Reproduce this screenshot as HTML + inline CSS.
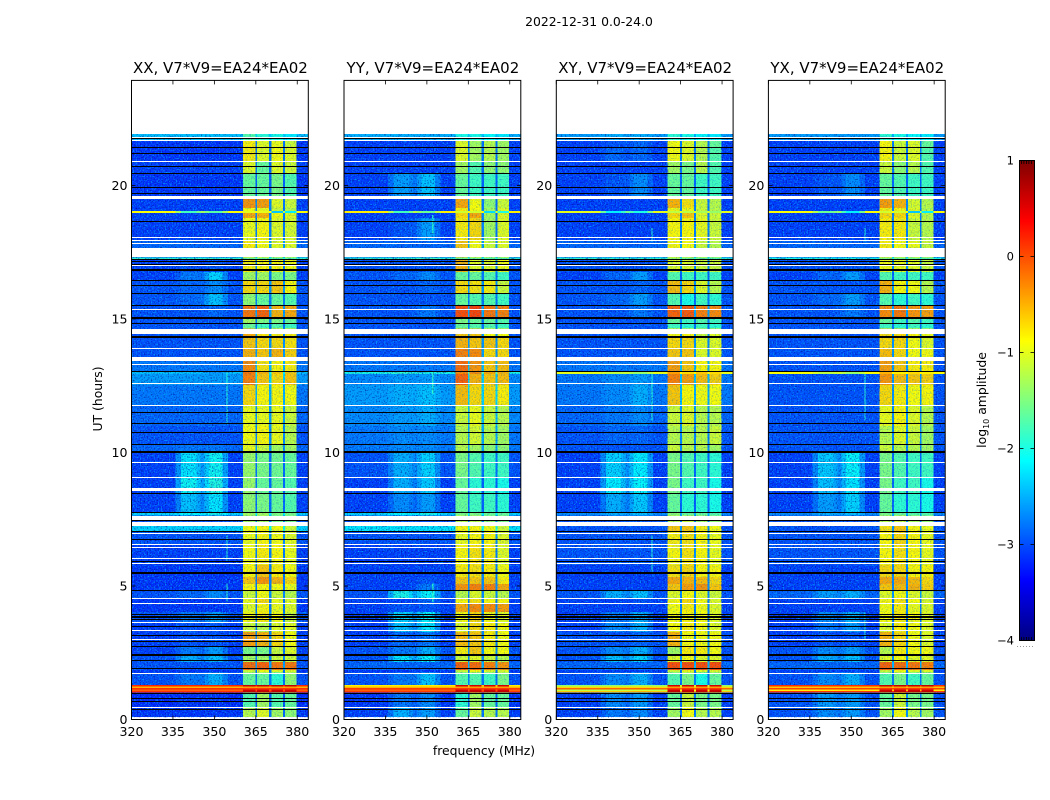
<!DOCTYPE html>
<html lang="en">
<head>
<meta charset="utf-8">
<title>2022-12-31 spectrogram</title>
<style>
html,body{margin:0;padding:0;background:#fff}
svg{display:block}
text{font-family:"DejaVu Sans","Liberation Sans",sans-serif;fill:#000}
</style>
</head>
<body>
<svg id="chart" xmlns="http://www.w3.org/2000/svg" width="1050" height="800" viewBox="0 0 1050 800">
  <defs>
    <filter id="speckle-a" x="0" y="0" width="1" height="1" color-interpolation-filters="sRGB">
      <feTurbulence type="fractalNoise" baseFrequency="0.72" numOctaves="1" seed="4"/>
      <feColorMatrix type="matrix" values="0 0 0 0 0  0 0 0 0 0.68  0 0 0 0 1  3 0 0 0 -1.45"/>
    </filter>
    <filter id="speckle-b" x="0" y="0" width="1" height="1" color-interpolation-filters="sRGB">
      <feTurbulence type="fractalNoise" baseFrequency="0.72" numOctaves="1" seed="11"/>
      <feColorMatrix type="matrix" values="0 0 0 0 0  0 0 0 0 0  0 0 0 0 0.5  0 2.2 0 0 -1.1"/>
    </filter>
  </defs>
  <text x="589" y="26" font-size="12.4" text-anchor="middle">2022-12-31 0.0-24.0</text>
  <text x="0" y="0" font-size="12.4" text-anchor="middle" transform="translate(102,399) rotate(-90)">UT (hours)</text>
  <text x="484" y="755" font-size="12.4" text-anchor="middle">frequency (MHz)</text>
  <text x="0" y="0" font-size="12.4" text-anchor="middle" transform="translate(986,400) rotate(-90)">log<tspan font-size="8" dy="3">10</tspan><tspan dy="-3"> amplitude</tspan></text>
  <g id="panels"></g>
  <g id="colorbar"></g>
</svg>
<script>
// ---- data (log10 amplitude) ----
const panelTitles = ["XX, V7*V9=EA24*EA02","YY, V7*V9=EA24*EA02","XY, V7*V9=EA24*EA02","YX, V7*V9=EA24*EA02"];
const xTicks = [320,335,350,365,380];
const yTicks = [0,5,10,15,20];
const colorTicks = [1,0,-1,-2,-3,-4];
const freqEdges = [320,336,338,343.5,345,346.5,348,353,355,360.3,364.8,365.5,369.8,370.6,374.8,375.5,379.8,384];
const hourEdges = [0.09,0.43,1.01,1.07,1.13,1.18,1.24,1.30,1.76,1.86,2.15,2.41,2.75,3.28,3.65,4.03,4.33,4.55,4.85,5.08,5.34,5.78,6.53,7.06,7.25,7.47,7.64,7.73,8.45,9.05,9.98,10.32,10.99,11.78,12.53,12.94,13.02,13.42,13.91,14.29,14.64,14.85,15.07,15.49,15.98,16.46,16.76,17.21,17.30,17.96,18.78,18.97,19.05,19.16,19.51,20.47,20.88,21.44,21.71,21.92];
// each row: background, bump 1, bump 2, window 1, window 2, window 3, window 4
const rowsXX = [
[-3.15,-3.15,-3.15,-1.2,-1.0,-1.3,-1.4],[-3.2,-3.15,-3.15,-1.7,-1.3,-1.7,-1.6],[.15,.15,.15,.7,.7,.7,.7],[-.1,-.1,-.1,.6,.6,.6,.6],[.15,.15,.15,.1,.1,.1,.1],[-.5,-.5,-.5,-.4,-.4,-.4,-.4],[.2,.2,.2,.7,.7,.7,.7],[-3,-2.8,-2.5,-1.6,-1.6,-1.9,-1.4],[-3.15,-3.15,-3.15,-1.1,-.9,-1,-1],[-3,-3,-3,-.15,-.1,-.2,-.2],
[-3,-2.5,-2.4,-1.3,-1.3,-1.1,-1.1],[-3.1,-2.8,-2.6,-1.5,-1.5,-1.1,-1.0],[-3.1,-3,-3,-.4,-.5,-.7,-.9],[-3.1,-3,-3,-1.1,-1.2,-1,-1],[-3,-2.8,-2.6,-.9,-.8,-.9,-1.1],[-3.15,-3.15,-3.15,-1,-.85,-.95,-1],[-3.15,-3.15,-3.15,-.95,-.7,-.95,-1],[-3,-2.9,-2.7,-1.1,-.9,-1.1,-1.2],[-3.15,-3.15,-3.15,-.85,-.85,-.9,-.95],[-3.15,-3.15,-3.15,-.6,-.35,-.5,-.7],
[-3.15,-3.15,-3.15,-.85,-.6,-.8,-.9],[-3.1,-3.1,-3.1,-.9,-.8,-.85,-.95],[-3,-3,-3,-.95,-.85,-.9,-1],[-2.3,-2.3,-2.3,-.9,-.85,-.9,-1.1],[-3,-3,-3,-1.3,-1.3,-1.5,-1.5],[-3,-3,-3,-1.3,-1.3,-1.5,-1.5],[-2.3,-2.1,-2,-1.3,-1.3,-1.5,-1.5],[-3.1,-2.4,-2.2,-1.4,-1.5,-1.6,-1.7],[-3.1,-2.05,-1.95,-1.35,-1.6,-1.6,-1.7],[-3.1,-2.2,-2.05,-1.35,-1.5,-1.55,-1.6],
[-2.9,-2.8,-2.8,-.95,-1.1,-1.3,-1.3],[-3,-3,-3,-.9,-.85,-.95,-1.2],[-2.9,-2.9,-2.9,-.95,-.95,-.95,-1.1],[-2.8,-2.8,-2.8,-.7,-.85,-.85,-.9],[-2.6,-2.6,-2.6,-.25,-.6,-.7,-.6],[-2.4,-2.4,-2.6,-.2,-.5,-.6,-.6],[-2.8,-2.8,-2.8,-.3,-.75,-.85,-.8],[-3,-3,-3,-.5,-.6,-.5,-.65],[-3,-3,-3,-.6,-.7,-.7,-.75],[-3,-3,-3,-.45,-.75,-.8,-.8],
[-3,-3,-3,-1.6,-1.8,-1.7,-1.8],[-3,-3,-3,-1.3,-1.5,-1.5,-1.6],[-3,-3,-2.9,-.2,-.1,-.5,-.45],[-3,-2.9,-2.4,-1.4,-1.6,-1.6,-1.7],[-3,-2.9,-2.7,-.7,-.7,-.6,-.85],[-3.1,-2.8,-2.3,-1.3,-1.3,-1.5,-1.5],[-3.1,-3,-3,-.8,-.85,-.85,-.9],[-1.9,-1.9,-1.9,-1.6,-1.6,-1.7,-1.7],[-2.9,-2.9,-2.9,-.8,-.9,-1,-1],[-3.1,-3.1,-3.1,-.95,-.85,-1,-1.05],
[-3.1,-3.1,-3.1,-.45,-.5,-.9,-1],[-.9,-1.8,-1.7,-1,-1,-2.4,-2.2],[-3.1,-3.1,-3.1,-.9,-.95,-1.1,-1.2],[-3.1,-3.1,-3.1,-.35,-.4,-1,-1.1],[-3.15,-3.15,-3.15,-1.6,-1.6,-1.5,-1.7],[-3.1,-3.1,-3.1,-1,-1.6,-1,-1.1],[-3.15,-3.15,-3.15,-.8,-1,-.9,-1],[-3.15,-3.15,-3.15,-.8,-1,-.95,-1.1],[-2.4,-2.4,-2.4,-1.7,-1.9,-2,-2.2]
];
const rowsYY = [
[-3.1,-2.5,-2.6,-1.6,-1.1,-1.2,-1.2],[-3.15,-2.8,-2.7,-1.9,-1.3,-1.6,-1.6],[.1,.1,.1,.7,.7,.7,.7],[-.1,-.1,-.1,.6,.6,.6,.6],[.1,.1,.1,.1,.1,.1,.1],[-.5,-.5,-.5,-.4,-.4,-.4,-.4],[-.8,-.8,-.8,.6,.6,.6,.6],[-3,-2.8,-2.4,-1.7,-1.7,-1.8,-1.5],[-3.15,-3.15,-3.15,-1.1,-.9,-1,-1],[-2.9,-2.9,-2.9,-.1,-.15,-.25,-.35],
[-3,-2.2,-2.1,-1.1,-1,-1.1,-1.2],[-3,-2.8,-2.5,-.8,-.6,-.9,-.9],[-3.1,-2.9,-2.8,-.55,-.6,-.8,-.9],[-3.1,-2.4,-2.2,-1,-.7,-.8,-.9],[-3.1,-2.3,-2.1,-.9,-.7,-.9,-1],[-3.1,-3,-3,-.45,-.3,-.3,-.4],[-3.1,-3.1,-2.9,-.85,-.75,-.85,-.85],[-3,-2,-2.1,-1.2,-1,-1.1,-1.2],[-3.1,-3.1,-2.8,-.35,-.25,-.25,-.45],[-3.1,-3.1,-3,-.6,-.6,-.6,-.8],
[-3.1,-3.1,-3.1,-.8,-.75,-.8,-.9],[-3.1,-3.1,-3.1,-.85,-.75,-.8,-1],[-3,-3,-3,-.95,-.85,-.85,-1],[-2.2,-2.2,-2.2,-.85,-.85,-.9,-1.1],[-3,-3,-3,-1.2,-1.2,-1.4,-1.5],[-3,-3,-3,-1.2,-1.2,-1.4,-1.5],[-2.3,-2.1,-2,-1.5,-1.5,-1.6,-1.6],[-3.1,-2.7,-2.6,-1.6,-1.8,-1.8,-1.9],[-3.1,-2.5,-2.35,-1.6,-1.9,-1.9,-2],[-3,-2.5,-2.3,-1.5,-1.7,-1.8,-1.8],
[-2.8,-2.7,-2.7,-1.2,-1.3,-1.4,-1.4],[-2.8,-2.7,-2.7,-1.2,-1.05,-1.2,-1.3],[-2.7,-2.6,-2.5,-1.1,-.95,-1.1,-1.2],[-2.6,-2.5,-2.4,-.55,-.7,-.7,-.8],[-2.7,-2.6,-2.6,-.1,-.5,-.6,-.55],[-2,-1.9,-2,-.3,-.3,-.45,-.5],[-2.8,-2.8,-2.8,-.15,-.35,-.6,-.55],[-3,-3,-3,-.25,-.3,-.7,-.7],[-3,-3,-3,-.5,-.6,-.6,-.7],[-3,-3,-3,-.6,-.6,-.9,-.9],
[-3,-3,-3,-1.6,-1.7,-1.7,-1.8],[-3,-3,-3,-1.5,-1.6,-1.6,-1.7],[-3,-3,-2.8,0,.05,-.2,-.25],[-3,-3,-3,-1.6,-1.7,-1.7,-1.8],[-3,-3,-2.9,-.7,-.75,-.8,-1.1],[-3,-2.9,-2.7,-1.6,-1.6,-1.7,-1.8],[-3,-3,-3,-.5,-1,-1,-.9],[-1.9,-1.9,-1.8,-1.6,-1.6,-1.7,-1.7],[-2.9,-2.9,-2.9,-.6,-.9,-1.1,-1],[-3.1,-3,-2.6,-.8,-.7,-1.3,-1],
[-3.1,-3.1,-3.1,-.7,-.45,-1.3,-1],[-.8,-1.8,-1.6,-1.1,-1.1,-2.3,-2],[-3.1,-3.1,-3.1,-.8,-.9,-1.3,-1],[-3.1,-3.1,-3.1,-.45,-.9,-1.4,-1.1],[-3.1,-2.6,-2.4,-1.6,-1.8,-1.8,-1.8],[-3.1,-3.1,-3.1,-1.3,-1.7,-1.4,-1.4],[-3.1,-3.1,-3.1,-1,-1.3,-1.2,-1.3],[-3.1,-3.1,-3.1,-1,-1.3,-1.2,-1.3],[-2.5,-2.5,-2.5,-2,-2,-2.1,-2.2]
];
const rowsXY = [
[-3.1,-2.8,-2.7,-1.3,-.9,-1.2,-1.2],[-3.1,-2.7,-2.6,-1.6,-1.1,-1.5,-1.5],[-.6,-.6,-.5,.7,.7,.7,.7],[-1.2,-1.2,-1.1,.6,.6,.6,.6],[-.1,-.1,-.1,.1,.1,.1,.1],[-.7,-.7,-.7,-.4,-.4,-.4,-.4],[-1.4,-1.4,-1.3,.6,.6,.6,.6],[-3,-2.7,-2.5,-1.7,-1.5,-2,-1.6],[-3.1,-3.1,-3.1,-1.1,-.9,-1,-1],[-2.9,-2.9,-2.9,0,0,0,0],
[-3,-2.4,-2.3,-1,-.9,-1,-1],[-3,-2.7,-2.5,-1.3,-.8,-.8,-.9],[-3,-3,-2.9,-.5,-.9,-.9,-.9],[-3.1,-2.7,-2.5,-.9,-.8,-.9,-1],[-3.1,-2.8,-2.5,-.9,-.85,-.9,-1],[-3.1,-3.1,-3.1,-.9,-.8,-.9,-1],[-3.1,-3.1,-3,-.85,-.7,-.9,-1],[-3,-2.5,-2.4,-1,-.9,-1,-1.1],[-3.1,-3.1,-3.1,-.6,-.4,-.35,-.6],[-3.1,-3.1,-3.1,-.45,-.5,-.55,-.7],
[-3.1,-3.1,-3.1,-.75,-.7,-.85,-.85],[-3,-3,-3,-.85,-.75,-.85,-.95],[-3,-3,-3,-.8,-.75,-.85,-.95],[-3,-3,-3,-.6,-.6,-.8,-.9],[-3,-3,-3,-1.2,-1.1,-1.3,-1.4],[-3,-3,-3,-1.2,-1.1,-1.3,-1.4],[-2.7,-2.5,-2.4,-1.4,-1.6,-1.6,-1.7],[-3.1,-2.5,-2.35,-1.6,-1.9,-1.9,-2],[-3.1,-2.15,-2.1,-1.5,-1.8,-1.8,-2],[-3.1,-2.3,-2.15,-1.5,-1.7,-1.8,-1.9],
[-3,-3,-3,-1.1,-1.2,-1.2,-1.3],[-3,-2.9,-2.9,-1.2,-1.2,-1.2,-1.1],[-2.9,-2.8,-2.7,-1.1,-1,-1.2,-1.2],[-2.8,-2.7,-2.5,-.6,-.85,-.9,-.9],[-2.8,-2.7,-2.6,-.25,-.4,-.55,-.65],[-1,-1.2,-1.4,-.4,-.7,-.6,-.7],[-2.8,-2.8,-2.8,-.4,-.6,-.85,-.85],[-3,-3,-3,-.6,-.6,-1,-1],[-3,-3,-3,-.7,-.7,-1,-1],[-3,-3,-3,-.85,-.85,-1.1,-1],
[-3,-3,-3,-1.8,-1.9,-1.8,-1.9],[-3,-3,-3,-1.6,-1.8,-1.7,-1.8],[-3,-3,-2.8,-.1,-.05,-.25,-.3],[-3,-2.9,-2.6,-1.7,-2,-1.8,-1.9],[-3,-3,-2.9,-.55,-.7,-1,-1.2],[-3.1,-2.9,-2.6,-1.7,-1.8,-1.8,-1.8],[-3,-3,-3,-1,-1,-1.1,-1.1],[-1.9,-1.9,-1.9,-1.4,-1.6,-1.6,-1.7],[-2.9,-2.9,-2.9,-.85,-.9,-1.1,-1.2],[-3.1,-3.1,-3.1,-.85,-.85,-.95,-1.1],
[-3.1,-3.1,-3.1,-.7,-.6,-1,-1.1],[-1,-2.2,-2,-1.2,-1.2,-1.3,-1.4],[-3.1,-3.1,-3.1,-.9,-.9,-1.1,-1.2],[-3.1,-3.1,-3.1,-.5,-.75,-1.1,-1.2],[-3.1,-3,-2.7,-1.6,-1.6,-1.8,-1.8],[-3.1,-3.1,-3.1,-1.3,-1.5,-1.2,-1.7],[-3.1,-2.9,-2.9,-.9,-1,-1.2,-1.7],[-3.1,-3,-2.9,-.9,-1,-1.2,-1.6],[-2.6,-2.5,-2.5,-1.9,-2,-2.1,-2.2]
];
const rowsYX = [
[-3,-2.7,-2.6,-1.3,-.9,-1.2,-1.3],[-3,-2.6,-2.6,-1.6,-1.1,-1.5,-1.5],[.1,.1,.1,.7,.7,.7,.7],[-.8,-.8,-.7,.6,.6,.6,.6],[.05,.05,.05,.1,.1,.1,.1],[-.6,-.6,-.6,-.4,-.4,-.4,-.4],[.15,.15,.15,.7,.7,.7,.7],[-3,-2.7,-2.5,-1.7,-1.5,-1.8,-1.6],[-3.1,-3.1,-3.1,-1.1,-.9,-1,-1],[-2.9,-2.9,-2.9,-.1,-.15,-.2,-.25],
[-3,-2.5,-2.4,-1,-.9,-1,-1],[-3,-2.7,-2.6,-1.2,-.8,-.9,-.9],[-3.1,-3,-3,-.5,-.7,-.9,-1],[-3.1,-2.8,-2.6,-1,-.8,-.9,-1],[-3.1,-2.7,-2.5,-.9,-.8,-.9,-1],[-3.1,-3.1,-3.1,-.9,-.8,-.95,-1],[-3.1,-3.1,-3.1,-.85,-.75,-.9,-1],[-2.9,-2.6,-2.5,-1,-.9,-1,-1.1],[-3.1,-3.1,-3.1,-.6,-.55,-.5,-.65],[-3.1,-3.1,-3.1,-.45,-.45,-.55,-.7],
[-3.1,-3.1,-3.1,-.7,-.7,-.85,-.85],[-3,-3,-3,-.85,-.75,-.85,-.95],[-3,-3,-3,-.85,-.7,-.85,-.95],[-3,-3,-3,-.75,-.6,-.85,-.95],[-3,-3,-3,-1.2,-1.1,-1.3,-1.4],[-3,-3,-3,-1.2,-1.1,-1.3,-1.4],[-2.7,-2.5,-2.4,-1.5,-1.6,-1.7,-1.7],[-3.1,-2.6,-2.3,-1.6,-1.9,-1.9,-2],[-3.1,-2.4,-2.2,-1.5,-1.8,-1.8,-2],[-3.1,-2.35,-2.1,-1.5,-1.7,-1.8,-1.8],
[-3,-3,-3,-1.1,-1.2,-1.2,-1.3],[-3,-3,-3,-1.2,-1,-1.1,-1.3],[-3,-3,-3,-.95,-.85,-1,-1.2],[-3,-3,-3,-.7,-.8,-.9,-.85],[-3,-3,-3,-.35,-.55,-.6,-.65],[-.9,-1.2,-1.4,-.5,-.8,-.7,-.8],[-3,-3,-3,-.4,-.6,-.8,-.8],[-3,-3,-3,-.55,-.7,-.9,-.9],[-3,-3,-3,-.7,-.7,-.9,-1],[-3,-3,-3,-.7,-.7,-.85,-.95],
[-3,-3,-3,-1.8,-1.9,-1.8,-1.9],[-3,-3,-3,-1.6,-1.8,-1.7,-1.8],[-3,-3,-2.8,-.3,-.2,-.35,-.4],[-3,-2.9,-2.6,-1.7,-1.9,-1.8,-1.9],[-3,-3,-3,-.5,-.85,-.9,-1.2],[-3.1,-2.9,-2.6,-1.7,-1.8,-1.8,-1.8],[-3,-3,-3,-.9,-.95,-1,-1.1],[-2,-2,-2,-1.5,-1.6,-1.6,-1.7],[-2.9,-2.9,-2.9,-.8,-.9,-.95,-1.1],[-3.1,-3.1,-3.1,-.8,-.8,-1.1,-1.2],
[-3.1,-3.1,-3.1,-.7,-.7,-1,-1.2],[-.9,-1.6,-2.2,-1.1,-1.1,-2.4,-2.2],[-3.1,-3.1,-3.1,-.8,-.85,-1,-1.2],[-3.1,-3.1,-3.1,-.4,-.5,-1.05,-1.2],[-3.1,-3,-2.7,-1.6,-1.7,-1.8,-1.8],[-3.1,-3.1,-3.1,-1.1,-1.4,-1.2,-1.7],[-3.1,-3.1,-3.1,-.85,-1.1,-1,-1.7],[-3.1,-3.1,-3.1,-.85,-1.1,-1,-1.6],[-2.6,-2.6,-2.6,-1.9,-2,-2.1,-2.2]
];
// flagged integrations: [hour, duration in hours]
const blankRows = [[.44,.05],[1.73,.05],[2.99,.05],[3.34,.05],[3.64,.05],[4.35,.05],[4.54,.05],[5.85,.05],[6.04,.05],[6.45,.05],[6.56,.05],[6.97,.05],[7.32,.14],[7.55,.16],[8.6,.13],[9.04,.05],[9.63,.05],[11.77,.05],[12.56,.05],[13.3,.05],[13.5,.15],[13.9,.05],[14.52,.2],[15.34,.05],[16.98,.05],[17.48,.34],[17.82,.05],[17.93,.05],[18.04,.05],[19.57,.11],[20.88,.05],[21.79,.045],[21.7,.045]];
const darkRows = [[.35,.05],[.65,.05],[.77,.05],[.97,.05],[1.92,.05],[2.19,.05],[2.4,.08],[2.72,.05],[2.91,.05],[3.14,.05],[3.49,.05],[3.73,.05],[3.84,.08],[3.91,.05],[4.82,.05],[5.49,.08],[5.91,.05],[6.72,.05],[7.02,.05],[7.45,.04],[7.76,.05],[8.44,.05],[10.02,.09],[10.3,.05],[10.75,.05],[11.07,.05],[11.51,.05],[13.01,.05],[14.32,.06],[14.84,.05],[15.03,.08],[15.51,.05],[15.96,.05],[16.23,.05],[16.43,.05],[16.83,.08],[17.05,.05],[17.14,.05],[17.23,.05],[18.66,.05],[19.71,.05],[19.93,.05],[20.46,.05],[20.69,.05],[21.2,.05],[21.43,.05],[21.75,.04]];
// narrow-band interference: [frequency, hour start, hour end]
const spikesXX = [[354.3,11.05,13],[354.3,4.4,5.1],[354.3,5.9,6.9]];
const spikesYY = [[351.9,4.4,5.1],[351.9,18.2,18.9],[351.9,12.2,13]];
const spikesXY = [[354.4,11.2,13],[354.4,17.9,18.4],[354.4,5.5,6.9]];
const spikesYX = [[354.7,11.2,13],[354.7,17.9,18.4],[354.7,3,4]];
const spikeLevel = -1.9;

// ---- layout and scales ----
const NS = 'http://www.w3.org/2000/svg';
const panelLefts = [131.5,344,556.3,768.4];
const panelWidth = 176.8;
const plotTop = 80.4, plotBottom = 719.5;
const pxPerHour = 26.7;
const levelMin = -4, levelMax = 1;
const hotThreshold = -1.5;
const xScale = (f, left) => left + (f - 320) * panelWidth / 64;
const yScale = h => plotBottom - h * pxPerHour;
const cbarScale = v => 640 - (v - levelMin) * 480 / (levelMax - levelMin);
const byte = v => Math.round(255 * Math.max(0, Math.min(1, v)));
function jet(level) {
  const t = Math.max(0, Math.min(1, (level - levelMin) / (levelMax - levelMin)));
  const r = Math.min(4 * t - 1.5, -4 * t + 4.5);
  const g = Math.min(4 * t - 0.5, -4 * t + 3.5);
  const b = Math.min(4 * t + 0.5, -4 * t + 2.5);
  return 'rgb(' + byte(r) + ',' + byte(g) + ',' + byte(b) + ')';
}
function columnLevels(row) {
  const [bg, b1, b2, s1, s2, s3, s4] = row;
  const dip = (b1 + b2 + 2 * bg) / 4;
  const gap = v => bg * 0.85 + v * 0.15;
  return [bg, (bg + b1) / 2, b1, (b1 + dip) / 2, dip, (dip + b2) / 2, b2, (b2 + bg) / 2, bg, s1, gap(s1), s2, gap(s2), s3, gap(s3), s4, bg];
}
function make(tag, attrs, parent) {
  const el = document.createElementNS(NS, tag);
  for (const k in attrs) el.setAttribute(k, attrs[k]);
  parent.appendChild(el);
  return el;
}
function drawRow(row, r, left, parent) {
  const top = yScale(hourEdges[r + 1]), bottom = yScale(hourEdges[r]);
  columnLevels(row).forEach((level, c) => {
    const x0 = xScale(freqEdges[c], left), x1 = xScale(freqEdges[c + 1], left);
    const cell = make('rect', { x: x0, y: top, width: x1 - x0, height: bottom - top, fill: jet(level) }, parent);
    
    
  });
}

const panelsRoot = document.getElementById('panels');
const panelRows = [rowsXX, rowsYY, rowsXY, rowsYX];
const panelSpikes = [spikesXX, spikesYY, spikesXY, spikesYX];
const panelKeys = ['xx', 'yy', 'xy', 'yx'];
// frequency spans and how strongly the pixel grain shows over each
const grainSpans = [[320,360.3,1],[360.3,379.8,.4],[379.8,384,1]];

panelTitles.forEach((title, p) => {
  const left = panelLefts[p], right = left + panelWidth;
  const g = make('g', {}, panelsRoot);
  
  

  const heat = make('g', { 'shape-rendering': 'crispEdges' }, g);
  
  
  panelRows[p].forEach((row, r) => drawRow(row, r, left, heat));
  panelSpikes[p].forEach(s => {
    const spike = make('rect', { x: xScale(s[0], left), y: yScale(s[2]), width: 1.2, height: yScale(s[1]) - yScale(s[2]), fill: jet(spikeLevel) }, heat);
    
    
  });

  // Pixel grain over the cells; it carries no data values.
  const top = yScale(hourEdges[hourEdges.length - 1]), bot = yScale(hourEdges[0]);
  grainSpans.forEach(span => {
    const x0 = xScale(span[0], left), w = xScale(span[1], left) - x0;
    const grainA = make('rect', { x: x0, y: top, width: w, height: bot - top, filter: 'url(#speckle-a)', opacity: span[2] }, g);
    
    
    const grainB = make('rect', { x: x0, y: top, width: w, height: bot - top, filter: 'url(#speckle-b)', opacity: span[2] }, g);
    
    
  });

  // Bright broadband rows stay clean above the grain.
  const hot = make('g', { 'shape-rendering': 'crispEdges' }, g);
  
  
  panelRows[p].forEach((row, r) => {
    if (row[0] > hotThreshold) drawRow(row, r, left, hot);
  });

  const flags = make('g', { 'shape-rendering': 'crispEdges' }, g);
  
  
  darkRows.forEach(f => {
    const line = make('rect', { x: left, y: Math.round(yScale(f[0] + f[1] / 2)), width: panelWidth, height: Math.max(1, Math.round(f[1] * pxPerHour)), fill: '#000' }, flags);
    
    
  });
  blankRows.forEach(f => {
    const line = make('rect', { x: left, y: Math.round(yScale(f[0] + f[1] / 2)), width: panelWidth, height: Math.max(1, Math.round(f[1] * pxPerHour)), fill: '#fff' }, flags);
    
    
  });

  const frame = make('rect', { x: left, y: plotTop, width: panelWidth, height: plotBottom - plotTop, fill: 'none', stroke: '#000', 'stroke-width': 1 }, g);
  
  

  xTicks.forEach(t => {
    const x = xScale(t, left);
    const tb = make('line', { x1: x, x2: x, y1: plotBottom, y2: plotBottom - 4, stroke: '#000', 'stroke-width': .8 }, g);
    
    
    const tt = make('line', { x1: x, x2: x, y1: plotTop, y2: plotTop + 4, stroke: '#000', 'stroke-width': .8 }, g);
    
    
    const lab = make('text', { x: x, y: 736, 'font-size': 12.6, 'text-anchor': 'middle' }, g);
    
    
    lab.textContent = t;
  });
  yTicks.forEach(t => {
    const y = yScale(t);
    const tl = make('line', { x1: left, x2: left + 4, y1: y, y2: y, stroke: '#000', 'stroke-width': .8 }, g);
    
    
    const tr = make('line', { x1: right, x2: right - 4, y1: y, y2: y, stroke: '#000', 'stroke-width': .8 }, g);
    
    
    const lab = make('text', { x: left - 4, y: y + 4.5, 'font-size': 12.6, 'text-anchor': 'end' }, g);
    
    
    lab.textContent = t;
  });
  const ttl = make('text', { x: left + panelWidth / 2 + .5, y: 73, 'font-size': 15, 'text-anchor': 'middle' }, g);
  
  
  ttl.textContent = title;
});

// ---- colorbar ----
const cbarRoot = document.getElementById('colorbar');
const cbarLeft = 1019.5, cbarWidth = 15;
const ramp = make('g', { 'shape-rendering': 'crispEdges' }, cbarRoot);


for (let i = 0; i < 240; i++) {
  const v0 = levelMin + (levelMax - levelMin) * i / 240;
  const v1 = levelMin + (levelMax - levelMin) * (i + 1) / 240;
  const step = make('rect', { x: cbarLeft, y: cbarScale(v1), width: cbarWidth, height: cbarScale(v0) - cbarScale(v1) + .5, fill: jet((v0 + v1) / 2) }, ramp);
  
  
}
const combTop = make('line', { x1: 1021, x2: 1033, y1: 162.5, y2: 162.5, stroke: '#000', 'stroke-width': 3, 'stroke-dasharray': '.8 1.7' }, cbarRoot);


const combBottom = make('line', { x1: 1021, x2: 1033, y1: 638.5, y2: 638.5, stroke: '#000', 'stroke-width': 3, 'stroke-dasharray': '.8 1.7' }, cbarRoot);


const cbarFrame = make('rect', { x: cbarLeft, y: 160.5, width: cbarWidth, height: 480, fill: 'none', stroke: '#000', 'stroke-width': 1 }, cbarRoot);


colorTicks.forEach(t => {
  const y = cbarScale(t) + .5;
  const a = make('line', { x1: cbarLeft, x2: cbarLeft + 4, y1: y, y2: y, stroke: '#000', 'stroke-width': .8 }, cbarRoot);
  
  
  const b = make('line', { x1: cbarLeft + cbarWidth, x2: cbarLeft + cbarWidth - 4, y1: y, y2: y, stroke: '#000', 'stroke-width': .8 }, cbarRoot);
  
  
  const lab = make('text', { x: 1014, y: y + 4, 'font-size': 11.5, 'text-anchor': 'end' }, cbarRoot);
  
  
  lab.textContent = String(t).replace('-', '\u2212');
});
const dots = make('line', { x1: 1017, x2: 1035, y1: 646.5, y2: 646.5, stroke: '#999', 'stroke-width': 1, 'stroke-dasharray': '1 2' }, cbarRoot);


</script>
</body>
</html>
